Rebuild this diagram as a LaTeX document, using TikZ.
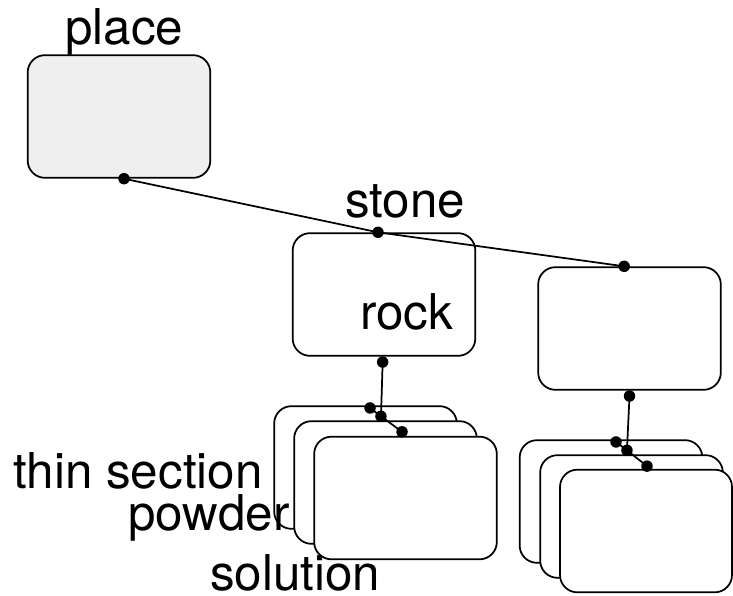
\documentclass[tikz,border=0pt]{standalone}
\usepackage{fontspec}
\setmainfont{TeX Gyre Heros}
\usepackage{tikz}
\usetikzlibrary{positioning}

\definecolor{placegray}{HTML}{EFEFEF}

\begin{document}
\begin{tikzpicture}[x=0.75pt, y=-0.75pt,
		card/.style={draw, line width=1.3pt, rounded corners=13pt, fill=white,
			minimum width=137pt, minimum height=92pt, inner sep=0pt},
		tag/.style={anchor=base west, inner sep=0pt, font=\fontsize{37}{44}\selectfont},
		link/.style={line width=1.3pt}]
	\useasboundingbox (0, 0) rectangle (733, 596);

	% the three top boxes
	\node[card, fill=placegray] (place) at (119, 116.5) {};
	\node[card] (stone) at (384, 294.5) {};
	\node[card] (other) at (629.5, 328.5) {};

	% left pile
	\node[card] (thin) at (365.5, 467.5) {};
	\node[card] (powder) at (385.5, 482.5) {};
	\node[card] (solution) at (405.5, 498) {};

	% right pile
	\node[card] (othera) at (611, 501.5) {};
	\node[card] (otherb) at (631.5, 516.5) {};
	\node[card, minimum width=129pt] (otherc) at (646, 531) {};

	% labels
	\node[tag] (placelabel) at (65, 45) {place};
	\node[tag] (stonelabel) at (345, 217) {stone};
	\node[tag] (rocklabel) at (360, 329) {rock};
	\node[tag] (thinlabel) at (13, 488) {thin section};
	\node[tag] (powderlabel) at (128, 530) {powder};
	\node[tag] (solutionlabel) at (210, 590) {solution};

	% where the links meet the boxes
	\coordinate (placedot) at ([xshift=3.75pt]place.south);
	\coordinate (stonetop) at ([xshift=-4.5pt]stone.north);
	\coordinate (othertop) at ([xshift=-4pt]other.north);
	\coordinate (stonebot) at ([xshift=-1pt, yshift=-4pt]stone.south);
	\coordinate (otherbot) at ([yshift=-4pt]other.south);
	\coordinate (thindot) at ([xshift=3.4pt, yshift=-2pt]thin.north);
	\coordinate (powderdot) at ([xshift=-3.4pt, yshift=3pt]powder.north);
	\coordinate (solutiondot) at ([xshift=-2.6pt, yshift=3pt]solution.north);
	\coordinate (otheradot) at ([xshift=3.75pt, yshift=-2pt]othera.north);
	\coordinate (otherbdot) at ([xshift=-3.4pt, yshift=3pt]otherb.north);
	\coordinate (othercdot) at ([xshift=0.75pt, yshift=2pt]otherc.north);

	% links
	\draw[link] (placedot) -- (stonetop) -- (othertop);
	\draw[link] (stonebot) -- (powderdot);
	\draw[link] (thindot) -- (powderdot) -- (solutiondot);
	\draw[link] (otherbot) -- (otherbdot);
	\draw[link] (otheradot) -- (otherbdot) -- (othercdot);

	% end dots
	\foreach \n in {placedot, stonetop, othertop, stonebot, otherbot,
		thindot, powderdot, solutiondot, otheradot, otherbdot, othercdot}
		\fill (\n) circle[radius=4.3pt];
\end{tikzpicture}
\end{document}
